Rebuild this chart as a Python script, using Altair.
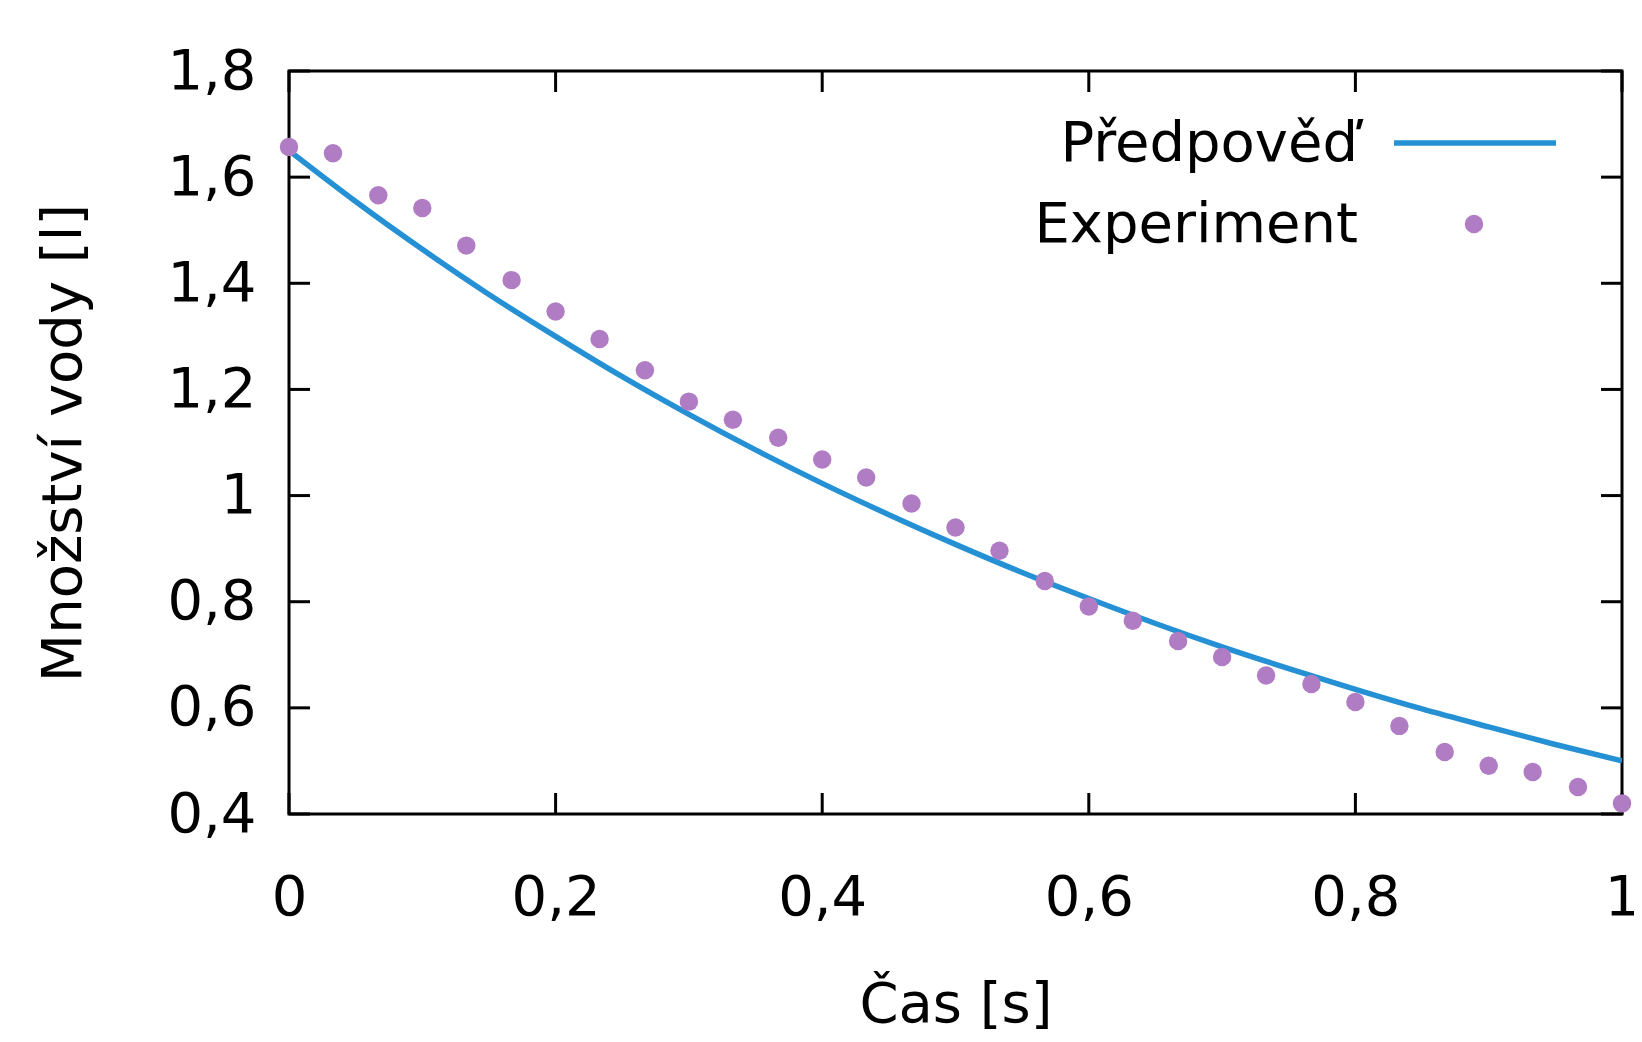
import altair as alt
import pandas as pd

exp_time = [0.0, 0.033, 0.067, 0.1, 0.133, 0.167, 0.2, 0.233, 0.267, 0.3,
            0.333, 0.367, 0.4, 0.433, 0.467, 0.5, 0.533, 0.567, 0.6, 0.633,
            0.667, 0.7, 0.733, 0.767, 0.8, 0.833, 0.867, 0.9, 0.933, 0.967, 1.0]
exp_water = [1.657, 1.645, 1.566, 1.542, 1.471, 1.406, 1.347, 1.295, 1.236, 1.177,
             1.143, 1.109, 1.068, 1.034, 0.985, 0.940, 0.896, 0.839, 0.791, 0.764,
             0.726, 0.696, 0.661, 0.645, 0.611, 0.566, 0.517, 0.491, 0.479, 0.451, 0.420]

# Prediction curve
pred_time = [0.0, 0.05, 0.1, 0.15, 0.2, 0.25, 0.3, 0.35, 0.4, 0.45, 0.5,
             0.55, 0.6, 0.65, 0.7, 0.75, 0.8, 0.85, 0.9, 0.95, 1.0]
pred_water = [1.650, 1.554, 1.464, 1.379, 1.300, 1.224, 1.153, 1.086, 1.023, 0.964, 0.908,
              0.855, 0.806, 0.759, 0.715, 0.674, 0.635, 0.598, 0.564, 0.531, 0.500]

x_ticks = [0, 0.2, 0.4, 0.6, 0.8, 1]
y_ticks = [0.4, 0.6, 0.8, 1, 1.2, 1.4, 1.6, 1.8]

legend_labels = ["Předpověď", "Experiment"]

W, H = 1333, 743
FONT = "DejaVu Sans"
FS = 56
LINE_COLOR = "#2590d4"
DOT_COLOR = "#b07cc4"
TICK = 21
DOT_SIZE = 340

exp_df = pd.DataFrame({"t": exp_time, "v": exp_water})
pred_df = pd.DataFrame({"t": pred_time, "v": pred_water})
xt_df = pd.DataFrame({"t": x_ticks})
yt_df = pd.DataFrame({"v": y_ticks})

lab_expr = "replace(format(datum.value, '~g'), '.', ',')"

x_scale = alt.Scale(domain=[0, 1], nice=False, zero=False)
y_scale = alt.Scale(domain=[0.4, 1.8], nice=False, zero=False)

x_axis = alt.Axis(values=x_ticks, labelExpr=lab_expr, ticks=False, domain=False, grid=False,
                  labelPadding=56, title="Čas [s]", titlePadding=52,
                  labelFlush=False, labelOverlap=False)
y_axis = alt.Axis(values=y_ticks, labelExpr=lab_expr, ticks=False, domain=False, grid=False,
                  labelPadding=33, title="Množství vody [l]", titlePadding=74,
                  labelFlush=False, labelOverlap=False)

line = alt.Chart(pred_df).mark_line(color=LINE_COLOR, strokeWidth=5.5, interpolate="monotone", clip=True).encode(
    x=alt.X("t:Q", scale=x_scale, axis=x_axis),
    y=alt.Y("v:Q", scale=y_scale, axis=y_axis),
)

points = alt.Chart(exp_df).mark_circle(color=DOT_COLOR, size=DOT_SIZE, opacity=1).encode(
    x=alt.X("t:Q", scale=x_scale),
    y=alt.Y("v:Q", scale=y_scale),
)

xt_bottom = alt.Chart(xt_df).mark_rule(color="black", strokeWidth=3).encode(
    x=alt.X("t:Q", scale=x_scale), y=alt.value(H), y2=alt.value(H - TICK))
xt_top = alt.Chart(xt_df).mark_rule(color="black", strokeWidth=3).encode(
    x=alt.X("t:Q", scale=x_scale), y=alt.value(0), y2=alt.value(TICK))
yt_left = alt.Chart(yt_df).mark_rule(color="black", strokeWidth=3).encode(
    y=alt.Y("v:Q", scale=y_scale), x=alt.value(0), x2=alt.value(TICK))
yt_right = alt.Chart(yt_df).mark_rule(color="black", strokeWidth=3).encode(
    y=alt.Y("v:Q", scale=y_scale), x=alt.value(W - TICK), x2=alt.value(W))

# Legend (manual, inside top-right)
leg_df1 = pd.DataFrame({"label": [legend_labels[0]]})
leg_df2 = pd.DataFrame({"label": [legend_labels[1]]})
leg_text1 = alt.Chart(leg_df1).mark_text(align="right", baseline="middle", font=FONT, fontSize=FS,
                                         color="black").encode(
    text="label:N", x=alt.value(1069), y=alt.value(73))
leg_text2 = alt.Chart(leg_df2).mark_text(align="right", baseline="middle", font=FONT, fontSize=FS,
                                         color="black").encode(
    text="label:N", x=alt.value(1069), y=alt.value(154))
leg_line = alt.Chart(leg_df1).mark_rule(color=LINE_COLOR, strokeWidth=5.5).encode(
    x=alt.value(1105), x2=alt.value(1267), y=alt.value(72))
leg_dot = alt.Chart(leg_df2).mark_circle(color=DOT_COLOR, size=DOT_SIZE, opacity=1).encode(
    x=alt.value(1185), y=alt.value(153))

chart = alt.layer(
    xt_bottom, xt_top, yt_left, yt_right, line, points,
    leg_text1, leg_text2, leg_line, leg_dot
).properties(
    width=W, height=H,
    autosize=alt.AutoSizeParams(type="none"),
    padding={"left": 281, "top": 63, "right": 12, "bottom": 220},
    background="white",
).configure_view(
    stroke="black", strokeWidth=3
).configure_axis(
    labelFont=FONT, labelFontSize=FS, labelColor="black",
    titleFont=FONT, titleFontSize=FS, titleColor="black", titleFontWeight="normal",
)

chart.save("out.html", embed_options={"renderer": "svg", "actions": False})
